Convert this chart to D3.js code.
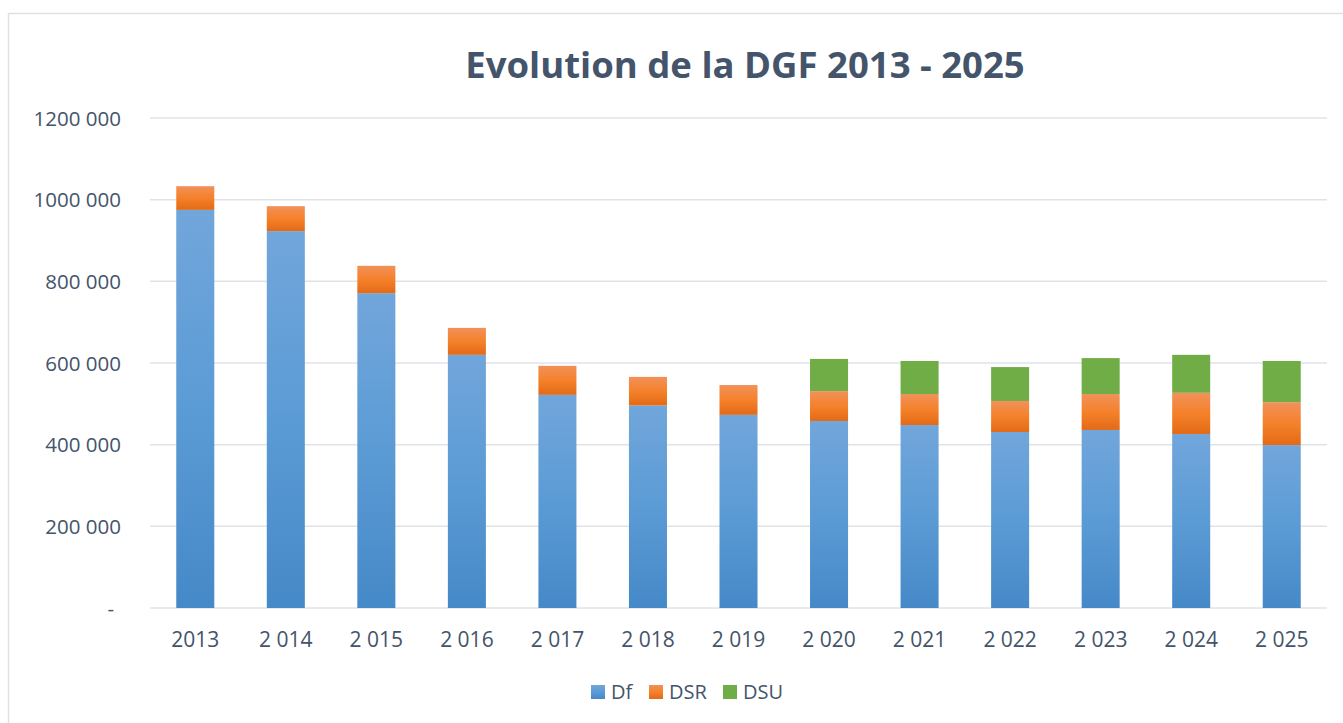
<!DOCTYPE html>
<html>
<head>
<meta charset="utf-8">
<script src="https://cdn.jsdelivr.net/npm/d3@7"></script>
<style>
  body { margin:0; background:#fff; }
  svg { display:block; }
  text { font-family: "Open Sans", "Noto Sans", sans-serif; fill:#44546a; }
</style>
</head>
<body>
<div id="chart"></div>
<script>
const years = ["2013","2 014","2 015","2 016","2 017","2 018","2 019","2 020","2 021","2 022","2 023","2 024","2 025"]
const df  = [975000, 923000, 771000, 620000, 522000, 496000, 473000, 458000, 448000, 431000, 436000, 426000, 399000]
const dsr = [ 58000,  61000,  67000,  66000,  71000,  70000,  73000,  73000,  76000,  76000,  88000, 101000, 105000]
const dsu = [     0,      0,      0,      0,      0,      0,      0,  79000,  81000,  83000,  88000,  93000, 101000]
const yTicks = [0, 200000, 400000, 600000, 800000, 1000000, 1200000]
const seriesNames = ["Df","DSR","DSU"]

function render(){
  let width = 1343, height = 723,
      margin = { top:118, left:150, right:16, bottom:115 },
      innerWidth = width - margin.left - margin.right,
      innerHeight = height - margin.top - margin.bottom

  let data = years.map((y,i) => ({ year:y, Df:df[i], DSR:dsr[i], DSU:dsu[i] }))
  let stack = d3.stack().keys(seriesNames)(data)

  let xScale = d3.scaleBand().domain(years).range([0,innerWidth]).paddingInner(0.58).paddingOuter(0.29)
  let yScale = d3.scaleLinear().domain([0,1200000]).range([innerHeight,0])

  let svg = d3.select("#chart").append("svg").attr("width",width).attr("height",height)

  // gradients
  let defs = svg.append("defs")
  let gBlue = defs.append("linearGradient").attr("id","gBlue").attr("x1",0).attr("y1",0).attr("x2",0).attr("y2",1)
  gBlue.append("stop").attr("offset","0%").attr("stop-color","#71a6db")
  gBlue.append("stop").attr("offset","50%").attr("stop-color","#5b9bd5")
  gBlue.append("stop").attr("offset","100%").attr("stop-color","#4689c8")
  let gOrange = defs.append("linearGradient").attr("id","gOrange").attr("x1",0).attr("y1",0).attr("x2",0).attr("y2",1)
  gOrange.append("stop").attr("offset","0%").attr("stop-color","#f1915a")
  gOrange.append("stop").attr("offset","50%").attr("stop-color","#f5812a")
  gOrange.append("stop").attr("offset","100%").attr("stop-color","#e36a17")
  const fills = { Df:"url(#gBlue)", DSR:"url(#gOrange)", DSU:"#70ad47" }

  // outer border
  svg.append("rect").attr("x",8.5).attr("y",13.5).attr("width",width).attr("height",height)
     .attr("fill","none").attr("stroke","#dde1e6").attr("stroke-width",1.5)

  svg.append("text").attr("x",745).attr("y",78).attr("text-anchor","middle")
     .style("font-size","36.5px").style("font-weight","bold").style("fill","#44546a")
     .text("Evolution de la DGF 2013 - 2025")

  let g = svg.append("g").attr("transform",`translate(${margin.left},${margin.top})`)

  g.selectAll("line.grid").data(yTicks).enter().append("line").attr("class","grid")
    .attr("x1",0).attr("x2",innerWidth)
    .attr("y1",d=>yScale(d)).attr("y2",d=>yScale(d))
    .attr("stroke","#dfe3e8").attr("stroke-width",1.5)

  let yAxis = d3.axisLeft(yScale).tickValues(yTicks).tickSize(0).tickPadding(29)
    .tickFormat(d => d === 0 ? "-" : d3.format(",")(d).replace(/,(\d{3})$/," $1").replace(/,/g,""))
  let ya = g.append("g").call(yAxis)
  ya.select(".domain").remove()
  ya.selectAll("text").style("font-size","20.5px").style("fill","#44546a").attr("dy","0.35em")
  ya.selectAll(".tick").filter(d=>d===0).select("text").attr("dx","-7")

  let xAxis = d3.axisBottom(xScale).tickSize(0).tickPadding(24)
  let xa = g.append("g").attr("transform",`translate(0,${innerHeight})`).call(xAxis)
  xa.select(".domain").remove()
  xa.selectAll("text").style("font-size","21px").style("fill","#44546a")

  g.selectAll("g.layer").data(stack).enter().append("g").attr("class","layer")
    .attr("fill",d=>fills[d.key])
    .selectAll("rect").data(d=>d.filter(p=>p[1]>p[0])).enter().append("rect")
    .attr("x",d=>xScale(d.data.year))
    .attr("width",xScale.bandwidth())
    .attr("y",d=>yScale(d[1]))
    .attr("height",d=>yScale(d[0])-yScale(d[1]))

  // legend
  let legX = [591, 649, 723]
  let leg = svg.append("g").selectAll("g").data(seriesNames).enter().append("g")
    .attr("transform",(d,i)=>`translate(${legX[i]},685)`)
  leg.append("rect").attr("width",14).attr("height",14).attr("fill",d=>fills[d])
  leg.append("text").attr("x",20).attr("y",7).attr("dy","0.35em")
    .style("font-size","20px").style("fill","#44546a").text(d=>d)
}

render()
</script>
</body>
</html>
